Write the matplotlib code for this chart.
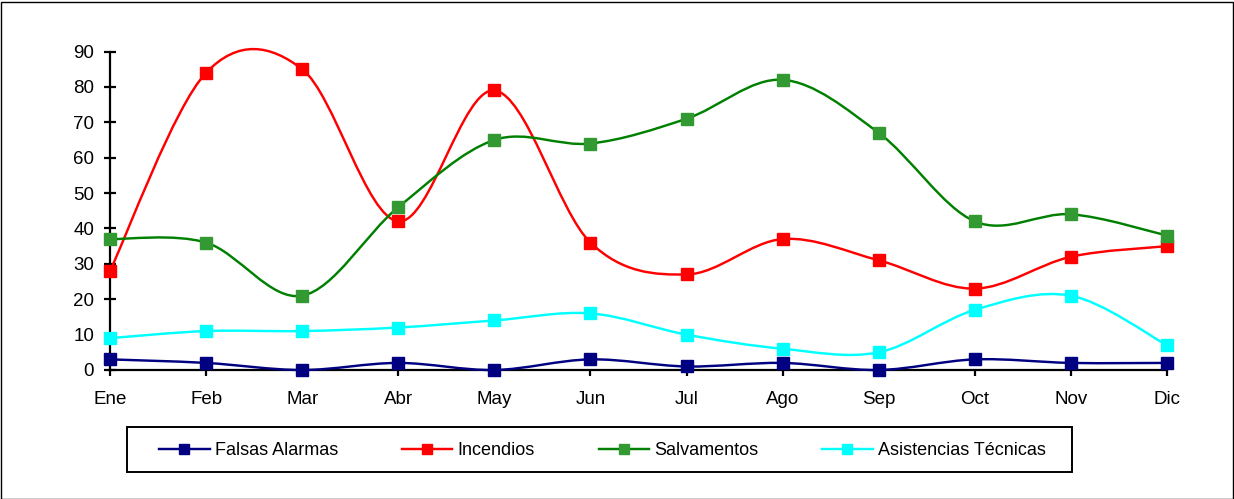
import matplotlib
matplotlib.use("Agg")
import matplotlib.pyplot as plt
from matplotlib.path import Path
from matplotlib.patches import PathPatch, Rectangle
from matplotlib.lines import Line2D
import numpy as np

plt.rcParams['font.family'] = ['Liberation Sans', 'DejaVu Sans']

months = ["Ene", "Feb", "Mar", "Abr", "May", "Jun", "Jul", "Ago", "Sep", "Oct", "Nov", "Dic"]
falsas_alarmas = [3, 2, 0, 2, 0, 3, 1, 2, 0, 3, 2, 2]
incendios = [28, 84, 85, 42, 79, 36, 27, 37, 31, 23, 32, 35]
salvamentos = [37, 36, 21, 46, 65, 64, 71, 82, 67, 42, 44, 38]
asistencias = [9, 11, 11, 12, 14, 16, 10, 6, 5, 17, 21, 7]
y_ticks = [0, 10, 20, 30, 40, 50, 60, 70, 80, 90]

series = [
    ("Falsas Alarmas", falsas_alarmas, "#000080", "#000080"),
    ("Incendios", incendios, "#FF0000", "#FF0000"),
    ("Salvamentos", salvamentos, "#008000", "#339933"),
    ("Asistencias Técnicas", asistencias, "#00FFFF", "#00FFFF"),
]


def smooth_path(xs, ys):
    pts = np.column_stack([xs, ys]).astype(float)
    n = len(pts)
    verts = [pts[0]]
    codes = [Path.MOVETO]
    for i in range(n - 1):
        p0 = pts[i - 1] if i > 0 else pts[i]
        p1 = pts[i]
        p2 = pts[i + 1]
        p3 = pts[i + 2] if i + 2 < n else pts[i + 1]
        c1 = p1 + (p2 - p0) / 6.0
        c2 = p2 - (p3 - p1) / 6.0
        verts += [c1, c2, p2]
        codes += [Path.CURVE4] * 3
    return Path(verts, codes)


W, H = 1234, 499
fig = plt.figure(figsize=(W / 100, H / 100), dpi=100)
ax = fig.add_axes([110 / W, (H - 370) / H, (1167 - 110) / W, (370 - 51.5) / H])

x = np.arange(len(months))
handles = []
for name, vals, lc, mc in series:
    patch = PathPatch(smooth_path(x, vals), facecolor="none", edgecolor=lc,
                      lw=1.75, clip_on=False, zorder=2)
    ax.add_patch(patch)
    ax.plot(x, vals, linestyle="none", marker="s", markersize=8.5,
            markerfacecolor=mc, markeredgecolor=mc, clip_on=False, zorder=3)
    handles.append(Line2D([], [], color=lc, lw=1.75, marker="s", markersize=7,
                          markerfacecolor=mc, markeredgecolor=mc, label=name))

ax.set_xlim(0, len(months) - 1)
ax.set_ylim(0, 90)
ax.set_xticks(x)
ax.set_xticklabels(months)
ax.set_yticks(y_ticks)
for s in ["top", "right"]:
    ax.spines[s].set_visible(False)
for s in ["left", "bottom"]:
    ax.spines[s].set_linewidth(1.6)
    ax.spines[s].set_zorder(1)
ax.tick_params(axis="both", width=1.6, labelsize=13.5, colors="black")
ax.tick_params(axis="x", direction="out", length=4, pad=11)
ax.tick_params(axis="y", direction="inout", length=9, pad=7)

leg = fig.legend(handles=handles, ncol=4, loc="center left",
                 bbox_to_anchor=(159 / W, (H - 473) / H, (1046 - 159) / W, 45 / H),
                 mode="expand", fontsize=13, frameon=False,
                 handlelength=2.8, handletextpad=0.3, borderaxespad=0,
                 borderpad=0)

fig.add_artist(Rectangle((127 / W, (H - 472) / H), (1072 - 127) / W, 45 / H,
                         transform=fig.transFigure, fill=False,
                         edgecolor="black", lw=1.4))

fig.add_artist(Rectangle((0.5 / W, 0.5 / H), (W - 2) / W, (H - 2) / H,
                         transform=fig.transFigure, fill=False,
                         edgecolor="black", lw=1.0))

fig.savefig("out.png", dpi=100)
